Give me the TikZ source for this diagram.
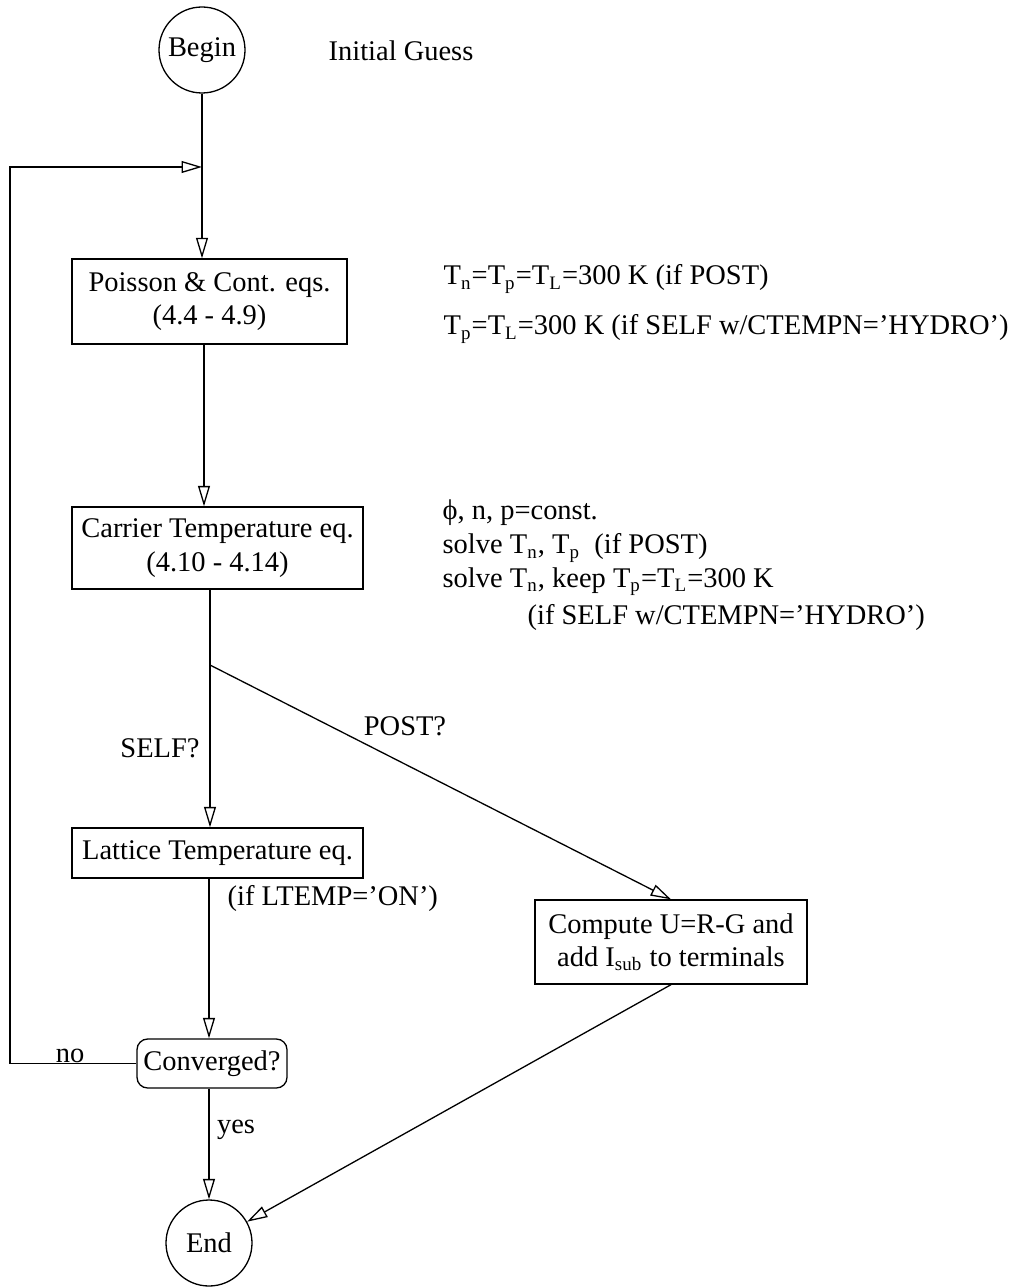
\documentclass[tikz,border=0pt]{standalone}
\usepackage{fontspec}
\setmainfont{Liberation Serif}
\usetikzlibrary{arrows.meta}
\newcommand{\unitpx}{0.01481cm}

\begin{document}
\begin{tikzpicture}[x=0.01481cm, y=-0.01481cm, line width=0.55pt,
    every node/.style={font=\fontsize{12pt}{14pt}\selectfont},
    term/.style={draw, circle, inner sep=0pt, minimum size=86*\unitpx},
    proc/.style={draw, rectangle, align=center, inner sep=0pt},
    test/.style={draw, rectangle, rounded corners=4.5pt, inner sep=0pt,
      minimum width=150*\unitpx, minimum height=49*\unitpx},
    note/.style={inner sep=0pt, anchor=west},
    lbl/.style={inner sep=0pt},
    flow/.style={-{Triangle[open, length=8.6pt, width=5pt]}}]
    \useasboundingbox (0,0) rectangle (1016,1287);

    % main column
    \node[term] (begin) at (202,50) {\raisebox{-1.5pt}{Begin}};
    \node[note] (guess) at (328,51) {Initial Guess};
    \node[proc, minimum width=275*\unitpx, minimum height=85*\unitpx] (poisson) at (209.5,301.5)
      {Poisson \& Cont. eqs.\\(4.4 - 4.9)};
    \node[proc, minimum width=291*\unitpx, minimum height=82*\unitpx] (carrier) at (217.5,548)
      {Carrier Temperature eq.\\(4.10 - 4.14)};
    \node[proc, minimum width=291*\unitpx, minimum height=50*\unitpx] (lattice) at (217.5,853)
      {Lattice Temperature eq.};
    \node[proc, minimum width=272*\unitpx, minimum height=84*\unitpx] (compute) at (671,942)
      {Compute U=R-G and\\ add I\textsubscript{sub} to terminals};
    \node[test] (conv) at (212,1063.5) {Converged?};
    \node[term] (end) at (209,1243) {End};

    % side notes
    \node[note] (postset) at (443,279) {T\textsubscript{n}=T\textsubscript{p}=T\textsubscript{L}=300 K (if POST)};
    \node[note] (selfset) at (443,329) {T\textsubscript{p}=T\textsubscript{L}=300 K (if SELF w/CTEMPN=’HYDRO’)};
    \node[note] (constline) at (442,513) {ϕ, n, p=const.};
    \node[note] (postline) at (442,548) {solve T\textsubscript{n}, T\textsubscript{p}\ \ (if POST)};
    \node[note] (keepline) at (442,582) {solve T\textsubscript{n}, keep T\textsubscript{p}=T\textsubscript{L}=300 K};
    \node[note] (condline) at (527,618) {(if SELF w/CTEMPN=’HYDRO’)};

    % branch labels
    \node[lbl] (selflbl) at (160,748) {SELF?};
    \node[lbl] (postlbl) at (405,726) {POST?};
    \node[note] (ltemp) at (227,898) {(if LTEMP=’ON’)};
    \node[lbl] (nolbl) at (70,1056) {no};
    \node[lbl] (yeslbl) at (236,1130) {yes};

    \coordinate (join) at (202,167);
    \coordinate (spine) at (204,0);
    \coordinate (fork) at (210,665);
    \coordinate (back) at (10,167);

    \draw[flow] (begin) -- (begin |- poisson.north);
    \draw[flow] (spine |- poisson.south) -- (spine |- carrier.north);
    \draw (fork |- carrier.south) -- (fork);
    \draw[flow] (fork) -- (fork |- lattice.north);
    \draw[flow] (fork) -- (compute.north);
    \draw[flow] (end |- lattice.south) -- (end |- conv.north);
    \draw[flow] (end |- conv.south) -- (end);
    \draw[flow] (compute.south) -- (end);
    \draw[flow] (conv.west) -| (back) -- (join);
  \end{tikzpicture}
\end{document}
